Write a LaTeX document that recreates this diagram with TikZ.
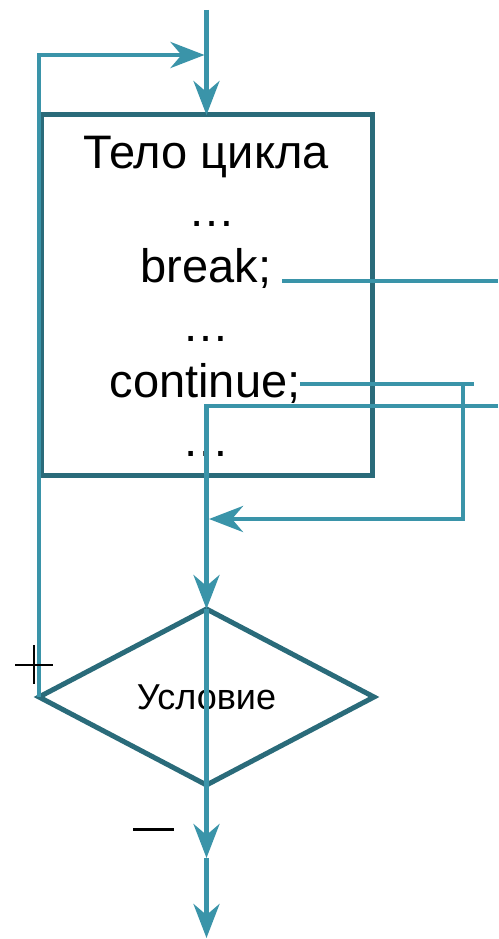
\documentclass[tikz,border=0pt]{standalone}
\usepackage{fontspec}
\setmainfont{Liberation Sans}
\usetikzlibrary{arrows.meta,shapes.geometric}
\definecolor{boxteal}{HTML}{2A6B7A}
\definecolor{flowteal}{HTML}{3A94A9}

\begin{document}
\begin{tikzpicture}[x=1pt,y=-1pt,
  frame/.style={draw=boxteal,line width=5pt,inner sep=0pt,outer sep=0pt},
  flow/.style={draw=flowteal,line width=4.6pt},
  tip/.style={-{Stealth[length=34pt,width=26pt,inset=11pt]}},
  codeline/.style={font=\fontsize{47}{57}\selectfont,inner sep=0pt,anchor=base},
  sign/.style={draw=black},
]
\useasboundingbox (0,0) rectangle (498,939);

% loop body and condition
\node[frame,rectangle,minimum width=331pt,minimum height=360pt] (body) at (206.5,295) {};
\node[frame,diamond,aspect=1.9,minimum width=335pt,minimum height=176pt,
      font=\fontsize{36}{40}\selectfont] (cond) at (206.5,697) {Условие};

% statements inside the body
\node[codeline] (title) at (206,168) {Тело цикла};
\node[codeline] (dotsA) at (212,226) {…};
\node[codeline] (brk)   at (206,282) {break;};
\node[codeline] (dotsB) at (206,341) {…};
\node[codeline] (cont)  at (205,397) {continue;};
\node[codeline] (dotsC) at (206,456) {…};

% free ends of the connectors
\coordinate (entry)   at (206.5,10);
\coordinate (looptop) at (204.5,55);
\coordinate (brkA)    at (282,281);
\coordinate (brkB)    at (498,281);
\coordinate (contA)   at (300,384);
\coordinate (contB)   at (474,384);
\coordinate (contC)   at (463,384);
\coordinate (contD)   at (209,519);
\coordinate (nextA)   at (498,406);
\coordinate (exitA)   at (206.5,858);
\coordinate (exitB)   at (206.5,938);

% entry into the loop
\draw[flow,tip] (entry) -- (entry |- body.north);
% "+" branch back to the start of the body
\draw[flow,tip] (cond.west) |- (looptop);
% break
\draw[flow] (brkA) -- (brkB);
% continue
\draw[flow] (contA) -- (contB);
\draw[flow,tip] (contC) |- (contD);
% flow towards the condition
\draw[flow,tip] (nextA) -| (cond.north);
\draw[flow] (cond.north) -- (cond.south);
\draw[flow,tip] (cond.south) -- (exitA);
\draw[flow,tip] (exitA) -- (exitB);

% branch signs
\draw[sign,line width=1.5pt] (15,665) -- (53,665) (34,645) -- (34,684);
\draw[sign,line width=3pt] (133,829) -- (174,829);
\end{tikzpicture}
\end{document}
